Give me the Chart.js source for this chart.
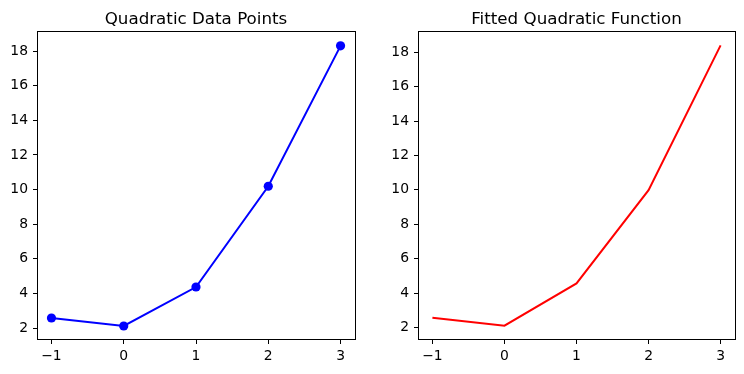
<!DOCTYPE html>
<html>
<head>
<meta charset="utf-8">
<script src="https://cdn.jsdelivr.net/npm/chart.js@4/dist/chart.umd.min.js"></script>
<style>
	body { margin: 0; background: #fff; }
	#graficos { position: relative; width: 744px; height: 374px; }
	canvas { position: absolute; top: 0; }
</style>
</head>
<body>
<div id="graficos">
	<canvas id="graficoPontos" width="372" height="374" style="left:0"></canvas>
	<canvas id="graficoAjuste" width="372" height="374" style="left:372px"></canvas>
</div>
<script>
var xValores = [-1, 0, 1, 2, 3];
var pontosDados = [2.58, 2.12, 4.37, 10.19, 18.3];
var pontosAjuste = [2.57, 2.1, 4.56, 9.98, 18.4];
var xTicks = [-1, 0, 1, 2, 3];
var yTicks = [2, 4, 6, 8, 10, 12, 14, 16, 18];

var Graficos = Graficos || {};

// moldura completa em volta da area do grafico + titulo centrado nos eixos
var moldura = {
	id: 'moldura',
	afterDraw: function(chart, args, opts) {
		var a = chart.chartArea;
		var ctx = chart.ctx;
		ctx.save();
		ctx.strokeStyle = '#000';
		ctx.lineWidth = 1;
		ctx.strokeRect(Math.round(a.left) + 0.5, Math.round(a.top) - 0.5, Math.round(a.right - a.left), Math.round(a.bottom - a.top));
		ctx.fillStyle = '#000';
		ctx.font = '16.7px "DejaVu Sans"';
		ctx.textAlign = 'center';
		ctx.textBaseline = 'alphabetic';
		ctx.fillText(opts.texto, (a.left + a.right) / 2, 24);
		ctx.restore();
	}
};

function pares(valores) {
	return xValores.map(function(x, i) { return { x: x, y: valores[i] }; });
}

function fixarTicks(lista) {
	return function(scale) {
		scale.ticks = lista.map(function(v) { return { value: v }; });
	};
}

Graficos.criar = function(id, titulo, dados, cor, comPontos, yLargura, direita, yMin, yMax) {
	var ctx = document.getElementById(id).getContext('2d');
	return new Chart(ctx, {
		type: 'line',
		data: {
			datasets: [{
				data: pares(dados),
				borderColor: cor,
				backgroundColor: cor,
				borderWidth: 2,
				pointRadius: comPontos ? 4.6 : 0,
				pointBorderWidth: 0,
				pointBackgroundColor: cor,
				tension: 0
			}]
		},
		plugins: [moldura],
		options: {
			responsive: false,
			animation: false,
			layout: { padding: { left: 0, right: direita, top: 32, bottom: 0 } },
			plugins: {
				legend: { display: false },
				tooltip: { enabled: false },
				title: { display: false },
				moldura: { texto: titulo }
			},
			scales: {
				x: {
					type: 'linear',
					min: -1.2,
					max: 3.2,
					afterBuildTicks: fixarTicks(xTicks),
					afterFit: function(scale) { scale.height = 34; },
					border: { display: false },
					grid: { drawOnChartArea: false, drawTicks: true, tickLength: 4, color: '#000' },
					ticks: {
						color: '#000',
						padding: 4,
						font: { family: 'DejaVu Sans', size: 13.9 },
						callback: function(v) { return String(v).replace('-', '\u2212'); }
					}
				},
				y: {
					min: yMin,
					max: yMax,
					afterBuildTicks: fixarTicks(yTicks),
					afterFit: function(scale) { scale.width = yLargura; },
					border: { display: false },
					grid: { drawOnChartArea: false, drawTicks: true, tickLength: 4, color: '#000' },
					ticks: {
						color: '#000',
						padding: 5,
						font: { family: 'DejaVu Sans', size: 13.9 }
					}
				}
			}
		}
	});
};

Graficos.criar('graficoPontos', 'Quadratic Data Points', pontosDados, '#0000ff', true, 37, 17, 1.31, 19.1);
Graficos.criar('graficoAjuste', 'Fitted Quadratic Function', pontosAjuste, '#ff0000', false, 46, 9, 1.27, 19.18);
</script>
</body>
</html>
